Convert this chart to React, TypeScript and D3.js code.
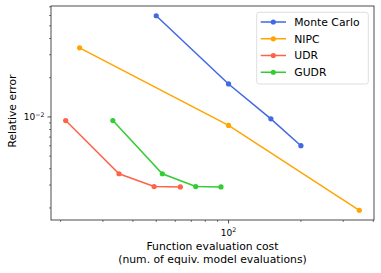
import * as d3 from "d3";
import React from "react";

// (log-log)
const seriesNames = ["Monte Carlo", "NIPC", "UDR", "GUDR"];
const seriesColors = ["#4169e1", "#ffa500", "#ff6347", "#32cd32"];

const mcCost = [50, 100, 150, 200];
const mcError = [0.0598, 0.0179, 0.00966, 0.00601];

const nipcCost = [24, 100, 350];
const nipcError = [0.0339, 0.00861, 0.00192];

const udrCost = [21, 35, 49, 63];
const udrError = [0.00937, 0.00366, 0.00292, 0.0029];

const gudrCost = [33, 53, 73, 93];
const gudrError = [0.00937, 0.00366, 0.00292, 0.0029];

const xMinorTicks = [20, 30, 40, 50, 60, 70, 80, 90, 200, 300, 400];
const yMinorTicks = [0.002, 0.003, 0.004, 0.005, 0.006, 0.007, 0.008, 0.009, 0.02, 0.03, 0.04, 0.05, 0.06, 0.07];

type Pt = { x: number; y: number };

const series: Pt[][] = [
  mcCost.map((x, i) => ({ x, y: mcError[i] })),
  nipcCost.map((x, i) => ({ x, y: nipcError[i] })),
  udrCost.map((x, i) => ({ x, y: udrError[i] })),
  gudrCost.map((x, i) => ({ x, y: gudrError[i] })),
];

const W = 381;
const H = 273;
const left = 51;
const right = 374;
const top = 6;
const bottom = 220;
const FONT = "DejaVu Sans, sans-serif";

// matplotlib style 5% margins in log space
const logDomain = (vals: number[]) => {
  const [lo, hi] = d3.extent(vals.map(Math.log10)) as [number, number];
  const m = (hi - lo) * 0.05;
  return [Math.pow(10, lo - m), Math.pow(10, hi + m)];
};

const App: React.FC = () => {
  const allX = series.flat().map((d) => d.x);
  const allY = series.flat().map((d) => d.y);
  const x = d3.scaleLog().domain(logDomain(allX)).range([left, right]);
  const y = d3.scaleLog().domain(logDomain(allY)).range([bottom, top]);

  const line = d3
    .line<Pt>()
    .x((d) => x(d.x))
    .y((d) => y(d.y));

  const inX = (v: number) => x(v) >= left - 0.5 && x(v) <= right + 0.5;
  const inY = (v: number) => y(v) >= top - 0.5 && y(v) <= bottom + 0.5;

  return (
    <svg
      width={W}
      height={H}
      style={{ position: "absolute", left: 0, top: 0, background: "#fff" }}
      fontFamily={FONT}
    >
      {/* lines + markers */}
      {series.map((pts, i) => (
        <g key={seriesNames[i]}>
          <path d={line(pts) ?? ""} fill="none" stroke={seriesColors[i]} strokeWidth={1.5} />
          {pts.map((p, j) => (
            <circle key={j} cx={x(p.x)} cy={y(p.y)} r={2.6} fill={seriesColors[i]} />
          ))}
        </g>
      ))}

      {/* ticks */}
      {xMinorTicks.filter(inX).map((t) => (
        <line key={"xm" + t} x1={x(t)} x2={x(t)} y1={bottom} y2={bottom + 2} stroke="#222" strokeWidth={0.6} />
      ))}
      <line x1={x(100)} x2={x(100)} y1={bottom} y2={bottom + 3.5} stroke="#222" strokeWidth={0.8} />
      <text x={x(100)} y={bottom + 15.5} textAnchor="middle" fontSize={9} fill="#000">
        10<tspan fontSize={6.3} dy={-3.6}>2</tspan>
      </text>

      {yMinorTicks.filter(inY).map((t) => (
        <line key={"ym" + t} x1={left - 2} x2={left} y1={y(t)} y2={y(t)} stroke="#222" strokeWidth={0.6} />
      ))}
      <line x1={left - 3.5} x2={left} y1={y(0.01)} y2={y(0.01)} stroke="#222" strokeWidth={0.8} />
      <text x={left - 6.5} y={y(0.01) + 3.2} textAnchor="end" fontSize={9} fill="#000">
        10<tspan fontSize={6.3} dy={-3.6}>−2</tspan>
      </text>

      {/* frame */}
      <rect x={left} y={top} width={right - left} height={bottom - top} fill="none" stroke="#222" strokeWidth={0.8} />

      {/* axis labels */}
      <text x={(left + right) / 2} y={250} textAnchor="middle" fontSize={10.8} fill="#000">
        Function evaluation cost
      </text>
      <text x={(left + right) / 2} y={262.5} textAnchor="middle" fontSize={10.8} fill="#000">
        (num. of equiv. model evaluations)
      </text>
      <text
        transform={`translate(16, ${(top + bottom) / 2 - 2}) rotate(-90)`}
        textAnchor="middle"
        fontSize={10.8}
        fill="#000"
      >
        Relative error
      </text>

      {/* legend */}
      <rect x={256.7} y={12.3} width={111.6} height={71.7} rx={2.5} fill="#fff" fillOpacity={0.8} stroke="#d6d6d6" strokeWidth={0.8} />
      {seriesNames.map((name, i) => {
        const ly = 22 + i * 16.75;
        return (
          <g key={name}>
            <line x1={260.7} x2={286} y1={ly} y2={ly} stroke={seriesColors[i]} strokeWidth={1.5} />
            <circle cx={273.3} cy={ly} r={2.6} fill={seriesColors[i]} />
            <text x={294.3} y={ly + 3.9} fontSize={10.8} fill="#000">
              {name}
            </text>
          </g>
        );
      })}
    </svg>
  );
};

export default App;
